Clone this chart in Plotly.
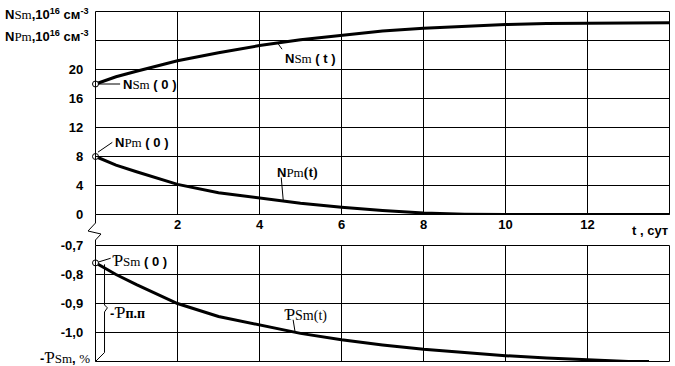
import plotly.graph_objects as go

# ---- data ----
t_nsm = [0, 0.5, 1, 1.5, 2, 3, 4, 5, 6, 7, 8, 9, 10, 11, 12, 13, 14]
nsm = [18, 19.0, 19.75, 20.5, 21.2, 22.3, 23.3, 24.1, 24.7, 25.3, 25.7, 26.0, 26.2, 26.35, 26.4, 26.45, 26.45]

t_npm = [0, 0.5, 1, 1.5, 2, 3, 4, 5, 6, 7, 8, 9, 10, 11, 12, 13, 14]
npm = [8, 6.8, 5.9, 5.05, 4.15, 3.0, 2.25, 1.55, 1.0, 0.55, 0.22, 0.05, 0, 0, 0, 0, 0]

t_psm = [0, 0.5, 1, 1.5, 2, 3, 4, 5, 6, 7, 8, 9, 10, 11, 12, 12.5, 13, 13.5]
psm = [-0.76, -0.8, -0.835, -0.868, -0.9, -0.945, -0.975, -1.003, -1.025, -1.043,
       -1.058, -1.07, -1.08, -1.088, -1.094, -1.098, -1.1, -1.1]

x_ticks = [2, 4, 6, 8, 10, 12]
x_ticktext = ["2", "4", "6", "8", "10", "12"]
x_frame = [0, 14]
y1_ticks = [0, 4, 8, 12, 16, 20, 24, 28]
y1_ticktext = ["0", "4", "8", "12", "16", "20", "", ""]
y2_ticks = [-1.1, -1.0, -0.9, -0.8, -0.7]
y2_ticktext = ["", "-1,0", "-0,9", "-0,8", "-0,7"]

SERIF = "Liberation Serif"
SANS = "Liberation Sans"

# pixel geometry (margins l=95, r=5, t=11, b=4 -> 575 x 351 plot area)
W, H, L, T = 575, 351, 95, 11
XPX = 41.0                       # px per day
X_RANGE = [-0.5 / XPX, -0.5 / XPX + W / XPX]
Y1PX = 29 / 4                    # px per unit, top panel
Y1_LEN = 204
Y1_RANGE = [28 + 0.5 / Y1PX - Y1_LEN / Y1PX, 28 + 0.5 / Y1PX]
Y1_DOM = [1 - Y1_LEN / H, 1]
Y2PX = 29 / 0.1                  # px per unit, bottom panel
Y2_LEN = 117
Y2_RANGE = [-1.1 - 0.5 / Y2PX, -1.1 - 0.5 / Y2PX + Y2_LEN / Y2PX]
Y2_DOM = [0, Y2_LEN / H]


def sub(s, size=13):
    return f'<span style="font-family:{SERIF};font-size:{size}px">{s}</span>'


fig = go.Figure()
line = dict(color="black", width=3)
fig.add_trace(go.Scatter(x=t_nsm, y=nsm, mode="lines", line=line, xaxis="x", yaxis="y"))
fig.add_trace(go.Scatter(x=t_npm, y=npm, mode="lines", line=line, xaxis="x", yaxis="y"))
fig.add_trace(go.Scatter(x=t_psm, y=psm, mode="lines", line=line, xaxis="x2", yaxis="y2"))
mk = dict(symbol="circle", size=6, color="white", line=dict(color="black", width=1))
fig.add_trace(go.Scatter(x=[t_nsm[0], t_npm[0]], y=[nsm[0], npm[0]], mode="markers",
                         marker=mk, cliponaxis=False, xaxis="x", yaxis="y"))
fig.add_trace(go.Scatter(x=[t_psm[0]], y=[psm[0]], mode="markers",
                         marker=mk, cliponaxis=False, xaxis="x2", yaxis="y2"))


def axis(**kw):
    d = dict(showgrid=False, showline=False, ticks="", zeroline=False,
             tickfont=dict(family=SANS, size=13, color="#000000"))
    d.update(kw)
    return d


fig.update_layout(
    width=675, height=366,
    margin=dict(l=L, r=5, t=T, b=4, autoexpand=False),
    paper_bgcolor="white", plot_bgcolor="rgba(0,0,0,0)",
    showlegend=False,
    font=dict(family=SANS, color="black"),
    xaxis=axis(domain=[0, 1], range=X_RANGE, tickvals=x_ticks,
               ticktext=[f"<b>{s}</b>" for s in x_ticktext], anchor="y"),
    yaxis=axis(domain=Y1_DOM, range=Y1_RANGE, tickvals=y1_ticks,
               ticktext=[f"<b>{s}</b>   " if s else "" for s in y1_ticktext], anchor="x"),
    xaxis2=axis(domain=[0, 1], range=X_RANGE, tickvals=x_ticks, showticklabels=False,
                anchor="y2"),
    yaxis2=axis(domain=Y2_DOM, range=Y2_RANGE, tickvals=y2_ticks,
                ticktext=[f"<b>{s}</b>   " if s else "" for s in y2_ticktext], anchor="x2"),
)

ann = []


def add_text(text, x, y, xref="x", yref="y", xanchor="left", size=13):
    ann.append(dict(text=text, x=x, y=y, xref=xref, yref=yref, xanchor=xanchor,
                    yanchor="middle", showarrow=False,
                    font=dict(family=SANS, size=size, color="black")))


def px2x(p):
    return (p - L) / W


def py2y(p):
    return (T + H - p) / H


# axis titles
add_text("<b>N</b>" + sub("Sm") + "<b>,10<sup>16</sup> см<sup>-3</sup></b>",
         px2x(3), py2y(14), "paper", "paper")
add_text("<b>N</b>" + sub("Pm") + "<b>,10<sup>16</sup> см<sup>-3</sup></b>",
         px2x(3), py2y(36), "paper", "paper")
add_text("<b>-</b>" + sub("Ƥ", 16) + sub("Sm") + "<b>, </b>" + sub("%"),
         px2x(92), py2y(357), "paper", "paper", xanchor="right")
add_text("<b>t , сут</b>", px2x(670), py2y(230), "paper", "paper", xanchor="right")

# curve labels
add_text("<b>N</b>" + sub("Sm") + "<b> ( 0 )</b>", 0.63, 18.0)
add_text("<b>N</b>" + sub("Pm") + "<b> ( 0 )</b>", 0.42, 10.0)
add_text("<b>N</b>" + sub("Sm") + "<b> ( t )</b>", 4.58, 21.5)
add_text("<b>N</b>" + sub("Pm") + sub("<b>(t)</b>", 14), 4.38, 5.7)
add_text(sub("Ƥ", 17) + sub("Sm") + "<b> ( 0 )</b>", 0.36, -0.752, "x2", "y2")
add_text(sub("Ƥ", 17) + sub("Sm(t)", 14), 4.55, -0.937, "x2", "y2")
add_text("<b>-</b>" + sub("Ƥ", 17) + sub("<b>п.п</b>", 14), 0.3, -0.93, "x2", "y2")

fig.update_layout(annotations=ann)

thin = dict(color="black", width=1)
clear = "rgba(0,0,0,0)"
shapes = []
# grid lines and frame, placed on the axes' own scales (pixel-centred)
for xa, ya, yt in (("x", "y", y1_ticks), ("x2", "y2", y2_ticks)):
    for v in x_frame + x_ticks:
        shapes.append(dict(type="line", xref=xa, yref=ya, x0=v, x1=v,
                           y0=yt[0], y1=yt[-1], line=thin, layer="above"))
    for v in yt:
        shapes.append(dict(type="line", xref=xa, yref=ya, x0=x_frame[0], x1=x_frame[1],
                           y0=v, y1=v, line=thin, layer="above"))

shapes += [
    dict(type="line", xref="x", yref="y", x0=0.07, y0=18, x1=0.6, y1=18, line=thin),
    dict(type="line", xref="x", yref="y", x0=0.06, y0=8.6, x1=0.41, y1=9.95, line=thin),
    dict(type="line", xref="x", yref="y", x0=4.46, y0=23.5, x1=4.55, y1=22.8, line=thin),
    dict(type="line", xref="x", yref="y", x0=4.53, y0=5.1, x1=4.58, y1=1.9, line=thin),
    dict(type="line", xref="x2", yref="y2", x0=0.07, y0=-0.757, x1=0.37, y1=-0.744, line=thin),
    dict(type="line", xref="x2", yref="y2", x0=4.82, y0=-0.956, x1=4.87, y1=-1.0, line=thin),
    dict(type="path", xref="x2", yref="y2", fillcolor=clear,
         path="M 0.22,-0.765 L 0.22,-0.905 L 0.29,-0.915 L 0.22,-0.929 L 0.22,-1.069 L 0,-1.1",
         line=thin),
    # axis break
    dict(type="path", xref="paper", yref="paper", fillcolor=clear,
         path=f"M {px2x(95.5)},{py2y(214.5)} L {px2x(95.5)},{py2y(223)} "
              f"L {px2x(88)},{py2y(231)} L {px2x(101)},{py2y(234)} "
              f"L {px2x(95.5)},{py2y(240)} L {px2x(95.5)},{py2y(245.5)}",
         line=thin),
]
fig.update_layout(shapes=shapes)

fig.write_html("out.html", config={"displayModeBar": False},
               post_script="document.body.style.margin='0';")
